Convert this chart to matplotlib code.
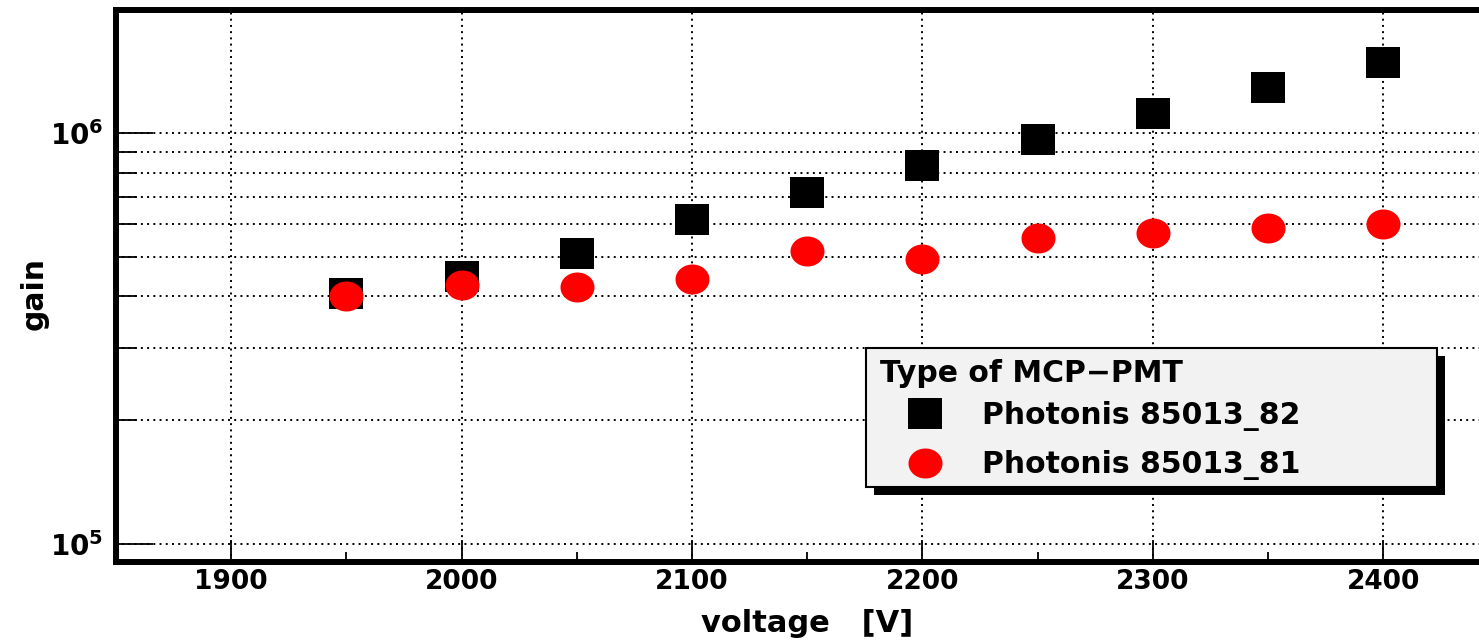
import numpy as np
import matplotlib
matplotlib.use('Agg')
import matplotlib.pyplot as plt
from matplotlib.path import Path
from matplotlib.patches import Rectangle
from matplotlib.font_manager import FontProperties
from matplotlib.ticker import FixedLocator, LogLocator, NullFormatter, FuncFormatter

# ---- data ----
voltage = [1950, 2000, 2050, 2100, 2150, 2200, 2250, 2300, 2350, 2400]
gain_82 = [4.07e5, 4.49e5, 5.11e5, 6.18e5, 7.19e5, 8.37e5, 9.69e5, 1.121e6, 1.293e6, 1.488e6]
gain_81 = [4.00e5, 4.26e5, 4.22e5, 4.42e5, 5.17e5, 4.94e5, 5.56e5, 5.72e5, 5.88e5, 6.01e5]
series_labels = ['Photonis 85013_82', 'Photonis 85013_81']
legend_title = 'Type of MCP\u2212PMT'
x_major = [1900, 2000, 2100, 2200, 2300, 2400]
x_minor = [1850, 1950, 2050, 2150, 2250, 2350, 2450]
x_label = 'voltage   [V]'
y_label = 'gain'

plt.rcParams['font.family'] = ['DejaVu Sans']
plt.rcParams['font.weight'] = 'bold'
plt.rcParams['mathtext.fontset'] = 'dejavusans'

W, H = 1479, 641
def fx(px):
    return px / W
def fy(py):
    return 1 - py / H

fig = plt.figure(figsize=(W / 100, H / 100), dpi=100)
ax = fig.add_axes([fx(116), fy(561.5), 1382.4 / W, 552 / H])

# custom stretched markers (reference is horizontally stretched)
t = np.linspace(0, 2 * np.pi, 97)
ell = Path(np.column_stack([np.cos(t), (30 / 34) * np.sin(t)]), closed=True)
h = 31 / 34
sq = Path([(-1, -h), (1, -h), (1, h), (-1, h), (-1, -h)], closed=True)
ms = 34 * 72 / 100

l82, = ax.plot(voltage, gain_82, linestyle='none', marker=sq, markersize=ms,
               color='black', markeredgewidth=0, zorder=3)
l81, = ax.plot(voltage, gain_81, linestyle='none', marker=ell, markersize=ms,
               color='#ff0000', markeredgewidth=0, zorder=4)

ax.set_xlim(1850, 2450)
ax.set_yscale('log')
ax.set_ylim(9.05e4, 2.0e6)

ax.xaxis.set_major_locator(FixedLocator(x_major))
ax.xaxis.set_minor_locator(FixedLocator(x_minor))
ax.yaxis.set_major_locator(LogLocator(base=10))
ax.yaxis.set_minor_locator(LogLocator(base=10, subs=np.arange(2, 10)))
ax.yaxis.set_minor_formatter(NullFormatter())
ax.yaxis.set_major_formatter(FuncFormatter(
    lambda v, p: r'$\mathbf{10^{%d}}$' % int(round(np.log10(v)))))

ax.tick_params(axis='both', which='both', direction='in', width=1.3,
               color='black', labelcolor='black')
ax.tick_params(axis='x', which='major', length=15.5, pad=5.5, labelsize=19)
ax.tick_params(axis='x', which='minor', length=7)
ax.tick_params(axis='y', which='major', length=26.5, pad=9, labelsize=20)
ax.tick_params(axis='y', which='minor', length=15)
for lab in ax.get_xticklabels() + ax.get_yticklabels():
    lab.set_fontweight('bold')

grid_kw = dict(color='black', linewidth=1.4, linestyle=(0, (1, 2.2)))
ax.grid(True, which='major', axis='x', **grid_kw)
ax.grid(True, which='both', axis='y', **grid_kw)
ax.set_axisbelow(True)

for s in ['left', 'bottom', 'top']:
    ax.spines[s].set_linewidth(4.3)
ax.spines['right'].set_visible(False)

ax.set_xlabel(x_label, fontsize=22, fontweight='bold', va='center')
ax.xaxis.set_label_coords(0.5, (561.5 - 623) / 552)
ax.set_ylabel(y_label, fontsize=21.5, fontweight='bold', va='center')
ax.yaxis.set_label_coords((34 - 116) / 1382.4, (561.5 - 293) / 552)

# legend box with shadow
shadow = Rectangle((fx(874), fy(495)), (1445 - 874) / W, (495 - 356) / H,
                   transform=fig.transFigure, facecolor='black', edgecolor='none',
                   zorder=2)
frame = Rectangle((fx(866), fy(487)), (1437 - 866) / W, (487 - 348) / H,
                  transform=fig.transFigure, facecolor='#f2f2f2', edgecolor='black',
                  linewidth=1.5, zorder=3)
fig.add_artist(shadow)
fig.add_artist(frame)

fp = FontProperties(family='DejaVu Sans', weight='bold', size=21.5)
fig.text(fx(880), fy(382), legend_title, fontproperties=fp, ha='left',
         va='baseline', zorder=6)
fig.legend(handles=[l82, l81], labels=series_labels,
           loc='center left', bbox_to_anchor=(fx(880), fy(440.5)),
           frameon=False, prop=fp,
           handlelength=3.0, handletextpad=0.43, labelspacing=0.66,
           borderpad=0, borderaxespad=0)

fig.savefig('out.png', dpi=100)
